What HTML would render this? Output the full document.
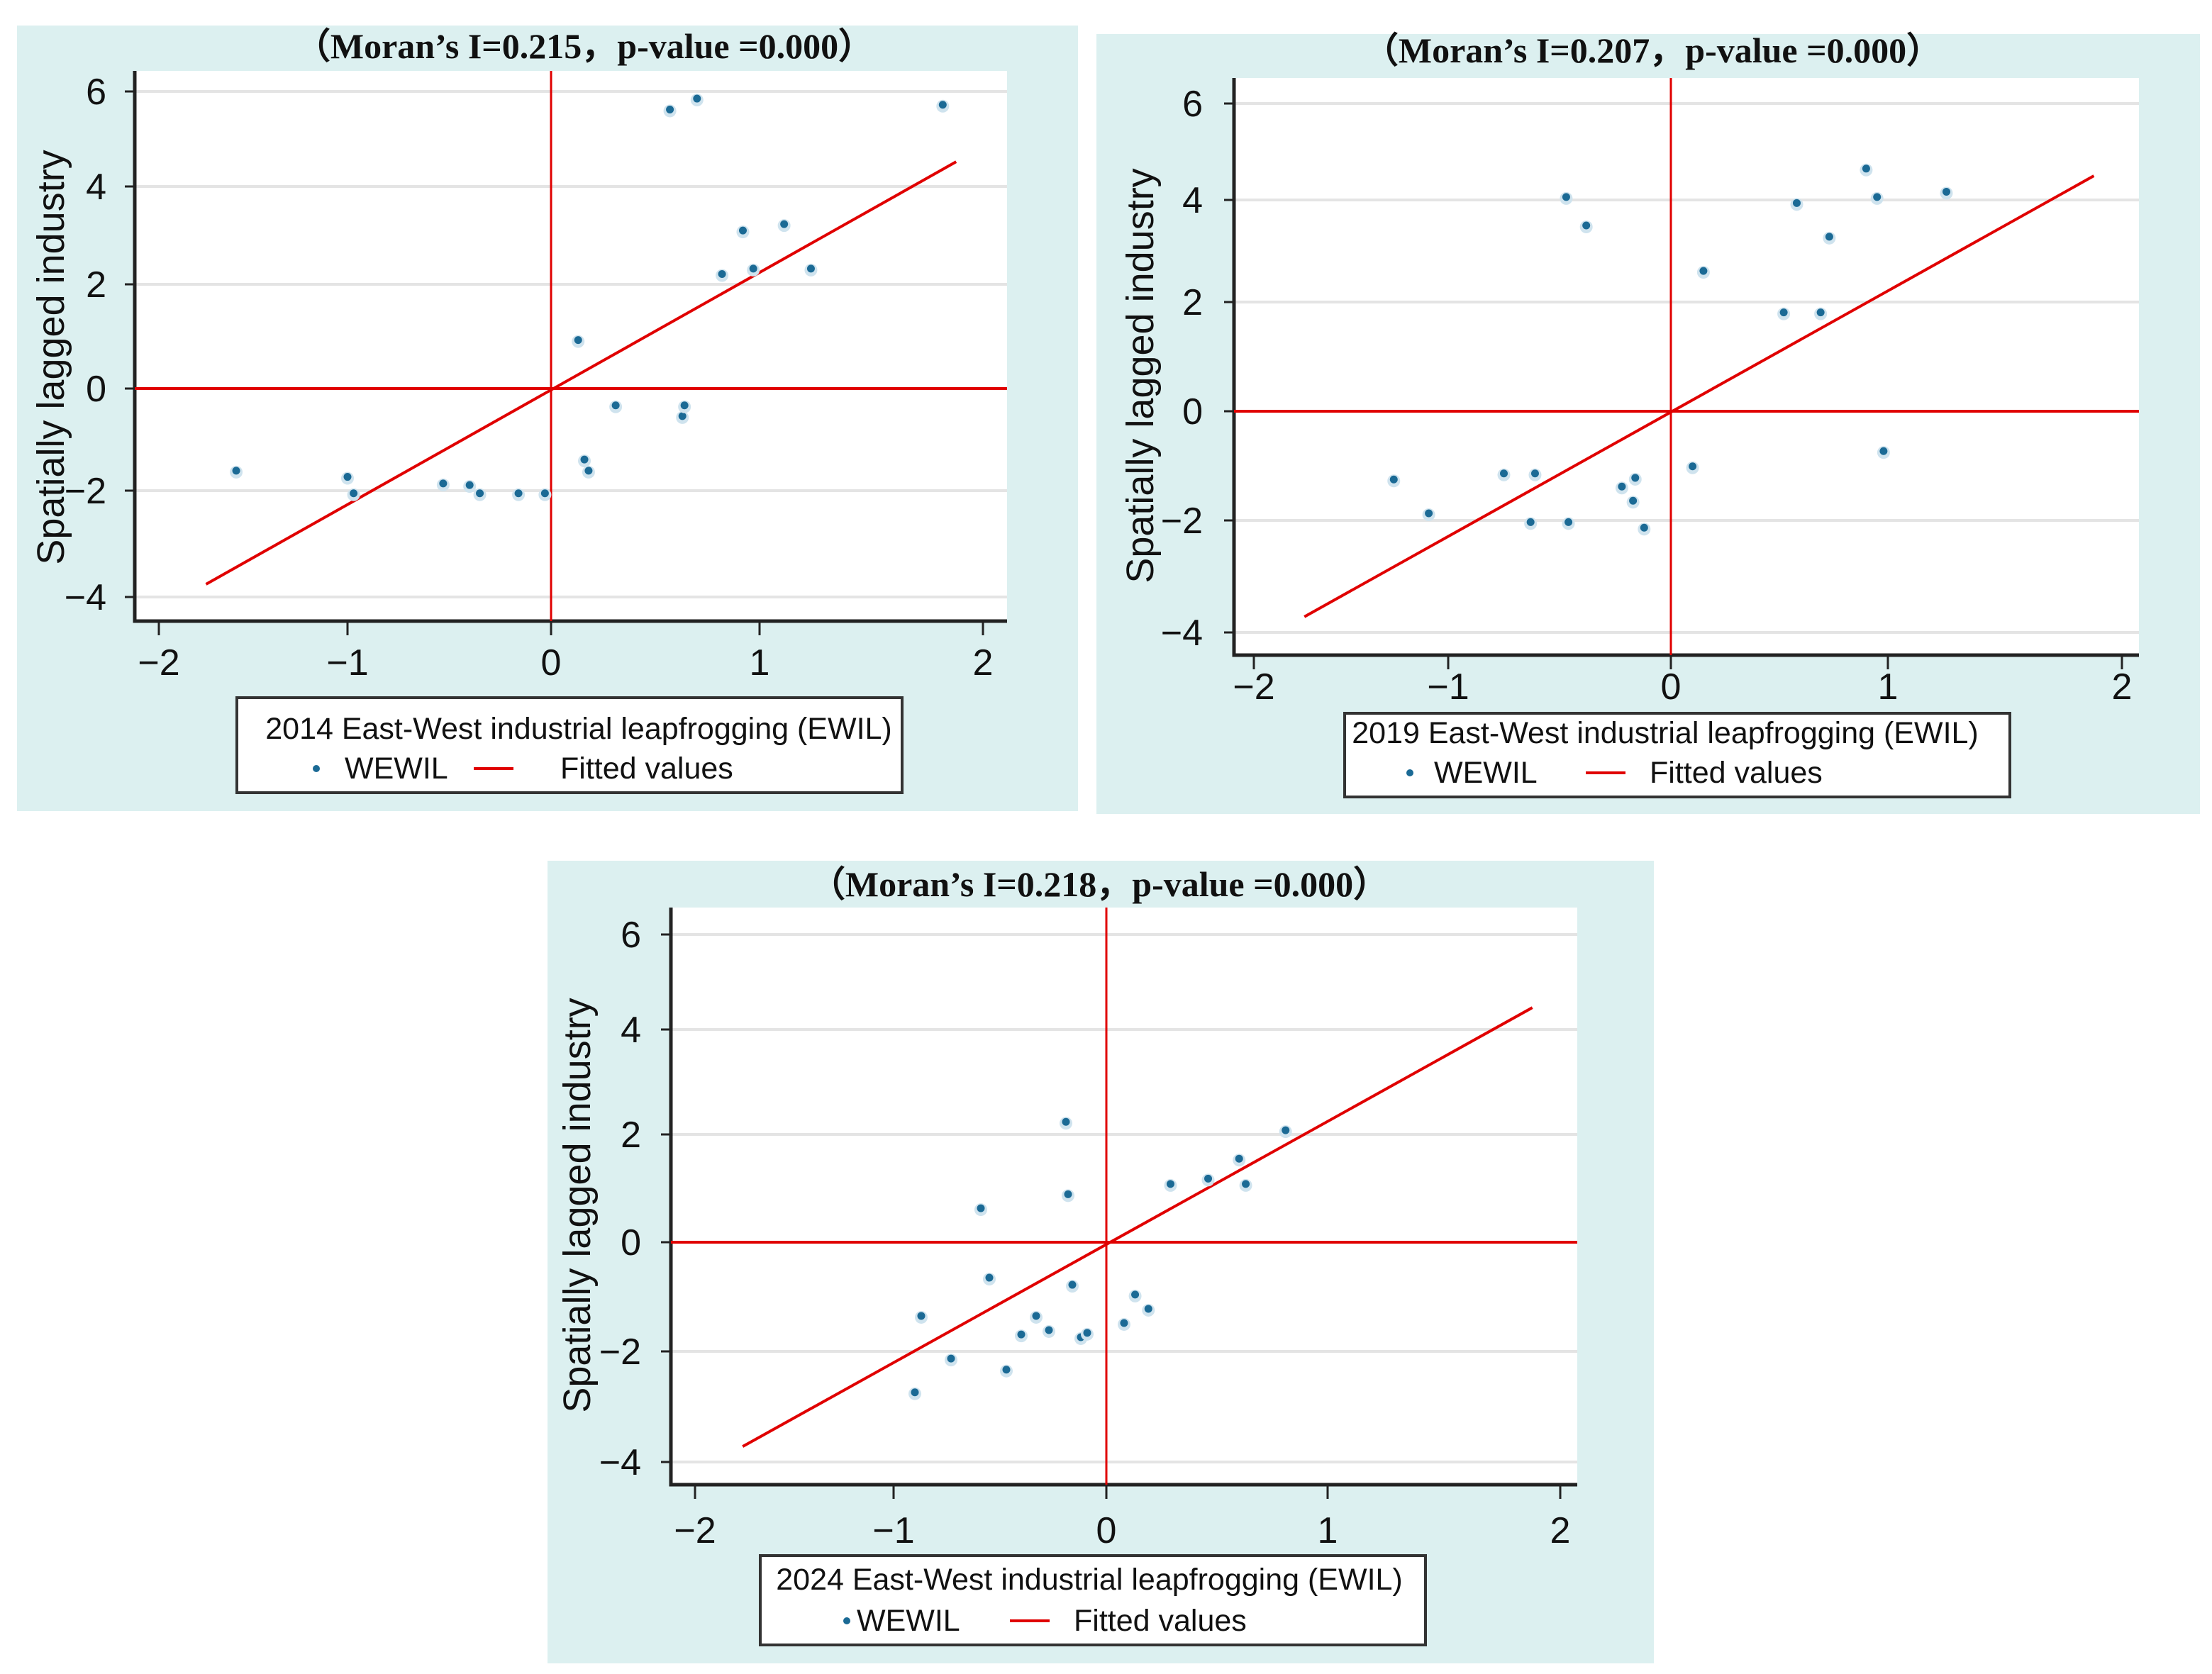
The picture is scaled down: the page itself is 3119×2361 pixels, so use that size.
<!DOCTYPE html>
<html><head><meta charset="utf-8"><style>
html,body{margin:0;padding:0;background:#fff;width:3119px;height:2361px;overflow:hidden}
svg{display:block}
</style></head><body>
<svg id="c" width="3119" height="2361" viewBox="0 0 3119 2361" xmlns="http://www.w3.org/2000/svg"></svg>
<script>
// ---- data ----
const xTickLabels = ["−2","−1","0","1","2"];
const yTickLabels = ["6","4","2","0","−2","−4"];
const xTickVals = [-2,-1,0,1,2];
const yTickVals = [6,4,2,0,-2,-4];
const titles = ["（Moran’s I=0.215，p-value =0.000）","（Moran’s I=0.207，p-value =0.000）","（Moran’s I=0.218，p-value =0.000）"];
const years = ["2014","2019","2024"];
const x2014 = [-1.59,-1.0,-0.97,-0.53,-0.40,-0.35,-0.16,-0.03,0.13,0.16,0.18,0.31,0.63,0.64,0.57,0.70,1.82,0.82,0.92,0.97,1.11,1.23];
const y2014 = [-1.61,-1.73,-2.05,-1.86,-1.89,-2.05,-2.05,-2.05,0.93,-1.39,-1.61,-0.33,-0.54,-0.33,5.62,5.85,5.72,2.21,3.10,2.32,3.23,2.32];
const x2019 = [-1.28,-1.10,-0.75,-0.61,-0.63,-0.46,-0.47,-0.38,-0.22,-0.16,-0.17,-0.12,0.10,0.15,0.52,0.58,0.69,0.73,0.90,0.95,0.98,1.25];
const y2019 = [-1.25,-1.87,-1.14,-1.14,-2.03,-2.03,4.06,3.50,-1.38,-1.22,-1.64,-2.13,-1.01,2.61,1.81,3.94,1.81,3.28,4.65,4.06,-0.73,4.17];
const x2024 = [-0.90,-0.87,-0.73,-0.55,-0.59,-0.47,-0.40,-0.33,-0.27,-0.19,-0.18,-0.16,-0.12,-0.09,0.08,0.13,0.19,0.29,0.46,0.60,0.63,0.81];
const y2024 = [-2.74,-1.35,-2.13,-0.65,0.63,-2.33,-1.69,-1.35,-1.61,2.24,0.89,-0.78,-1.74,-1.66,-1.48,-0.96,-1.22,1.08,1.18,1.55,1.08,2.08];
const fitX2014 = [-1.75,1.88], fitY2014 = [-3.76,4.52];
const fitX2019 = [-1.74,1.88], fitY2019 = [-3.72,4.50];
const fitX2024 = [-1.76,1.88], fitY2024 = [-3.72,4.46];

// ---- layout ----
const panels = [
 {bg:[24,36,1496,1108], l:190,r:1420,t:100,b:876, xt:[224,490,777,1071,1386], yt:[129,263,401,548,692,842],
  title:[824,82], xlabY:952, ylabR:150, ylab:[72,504],
  leg:[334,984,938,134], l1:[816,1042], l2y:1098, dot:446, wew:486, ln:[668,724], fit:790,
  xs:x2014, ys:y2014, fx:fitX2014, fy:fitY2014},
 {bg:[1546,48,1556,1100], l:1740,r:3016,t:110,b:924, xt:[1768,2042,2356,2662,2992], yt:[146,282,426,580,734,892],
  title:[2330,88], xlabY:986, ylabR:1696, ylab:[1608,530],
  leg:[1896,1006,938,118], l1:[2348,1048], l2y:1104, dot:1988, wew:2022, ln:[2236,2292], fit:2326,
  xs:x2019, ys:y2019, fx:fitX2019, fy:fitY2019},
 {bg:[772,1214,1560,1132], l:946,r:2224,t:1280,b:2094, xt:[980,1260,1560,1872,2200], yt:[1318,1452,1600,1752,1906,2062],
  title:[1550,1264], xlabY:2176, ylabR:904, ylab:[814,1700],
  leg:[1072,2194,938,126], l1:[1536,2242], l2y:2300, dot:1194, wew:1208, ln:[1424,1480], fit:1514,
  xs:x2024, ys:y2024, fx:fitX2024, fy:fitY2024}
];
const NS="http://www.w3.org/2000/svg";
const svg=document.getElementById('c');
function mk(tag,attrs,parent,text){const e=document.createElementNS(NS,tag);for(const k in attrs)e.setAttribute(k,attrs[k]);if(text!==undefined)e.textContent=text;(parent||svg).appendChild(e);return e;}
function interp(v,vals,px){
  let i=0; if(vals[0]>vals[1]){
    for(i=0;i<vals.length-2;i++) if(v>=vals[i+1]) break;
  } else { for(i=0;i<vals.length-2;i++) if(v<=vals[i+1]) break; }
  const a=vals[i],b=vals[i+1];return px[i]+(v-a)/(b-a)*(px[i+1]-px[i]);
}
const sans='"Liberation Sans", sans-serif', serif='"Liberation Serif", serif';
panels.forEach((p,pi)=>{
  const g=mk('g',{});
  
  
  const X=v=>interp(v,xTickVals,p.xt), Y=v=>interp(v,yTickVals,p.yt);
  const bg=mk('rect',{x:p.bg[0],y:p.bg[1],width:p.bg[2],height:p.bg[3],fill:'#dcf0f0'},g);
  
  const pa=mk('rect',{x:p.l,y:p.t,width:p.r-p.l,height:p.b-p.t,fill:'#fff'},g);
  
  const t=mk('text',{x:p.title[0],y:p.title[1],'text-anchor':'middle','font-family':serif,'font-weight':'bold','font-size':50,fill:'#111'},g,titles[pi]);
  
  p.yt.forEach((py,i)=>{
    const gl=mk('line',{x1:p.l,x2:p.r,y1:py,y2:py,stroke:'#e4e4e4','stroke-width':4},g);
    
    mk('line',{x1:p.l-14,x2:p.l,y1:py,y2:py,stroke:'#222','stroke-width':3},g);
    const tl=mk('text',{x:p.ylabR,y:py+18,'text-anchor':'end','font-family':sans,'font-size':52,fill:'#111'},g,yTickLabels[i]);
    
  });
  p.xt.forEach((px,i)=>{
    mk('line',{x1:px,x2:px,y1:p.b,y2:p.b+20,stroke:'#222','stroke-width':3},g);
    const tl=mk('text',{x:px,y:p.xlabY,'text-anchor':'middle','font-family':sans,'font-size':52,fill:'#111'},g,xTickLabels[i]);
    
  });
  const ax=mk('path',{d:`M${p.l},${p.t} L${p.l},${p.b} L${p.r},${p.b}`,fill:'none',stroke:'#222','stroke-width':5},g);
  
  const h0=mk('line',{x1:p.l,x2:p.r,y1:Y(0),y2:Y(0),stroke:'#e00000','stroke-width':4},g);
  
  const v0=mk('line',{x1:X(0),x2:X(0),y1:p.t,y2:p.b,stroke:'#e00000','stroke-width':3},g);
  
  const fl=mk('line',{x1:X(p.fx[0]),y1:Y(p.fy[0]),x2:X(p.fx[1]),y2:Y(p.fy[1]),stroke:'#e00000','stroke-width':4},g);
  
  p.xs.forEach((xv,i)=>{
    mk('circle',{cx:X(xv),cy:Y(p.ys[i])+2,r:9,fill:'#cfe3ee'},g);
    const c=mk('circle',{cx:X(xv),cy:Y(p.ys[i]),r:5.5,fill:'#1b6a95'},g);
    
  });
  const yl=mk('text',{x:0,y:0,transform:`translate(${p.ylab[0]},${p.ylab[1]}) rotate(-90)`,'text-anchor':'middle','dominant-baseline':'central','font-family':sans,'font-size':54,fill:'#111'},g,'Spatially lagged industry');
  
  const lg=mk('g',{},g);
  
  mk('rect',{x:p.leg[0],y:p.leg[1],width:p.leg[2],height:p.leg[3],fill:'#fff',stroke:'#333','stroke-width':4},lg);
  const xt=mk('text',{x:p.l1[0],y:p.l1[1],'text-anchor':'middle','font-family':sans,'font-size':43,fill:'#111'},lg,years[pi]+' East-West industrial leapfrogging (EWIL)');
  
  const ld=mk('circle',{cx:p.dot,cy:p.l2y-14,r:5,fill:'#1b6a95'},lg);
  
  const lw=mk('text',{x:p.wew,y:p.l2y,'font-family':sans,'font-size':43,fill:'#111'},lg,'WEWIL');
  
  const ll=mk('line',{x1:p.ln[0],x2:p.ln[1],y1:p.l2y-14,y2:p.l2y-14,stroke:'#e00000','stroke-width':4},lg);
  
  const lf=mk('text',{x:p.fit,y:p.l2y,'font-family':sans,'font-size':43,fill:'#111'},lg,'Fitted values');
  
});
</script>
</body></html>
